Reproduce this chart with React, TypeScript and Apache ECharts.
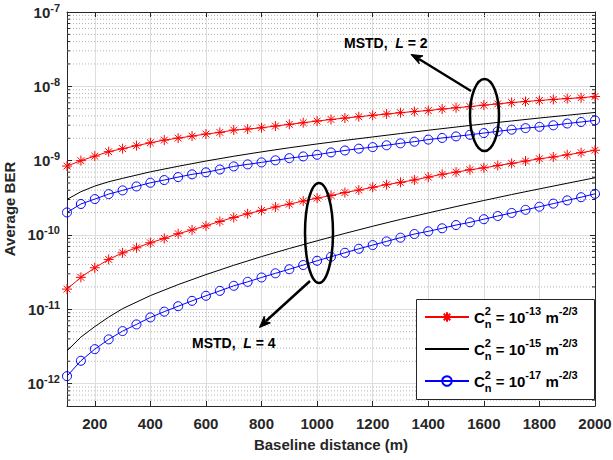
import React, { useEffect, useRef } from "react";
import * as echarts from "echarts";

const FONT = '"Liberation Sans", Arial, Helvetica, sans-serif';

// Baseline distance of marker points (m)
const distances = [
  100, 150, 200, 250, 300, 350, 400, 450, 500, 550, 600, 650, 700, 750, 800,
  850, 900, 950, 1000, 1050, 1100, 1150, 1200, 1250, 1300, 1350, 1400, 1450,
  1500, 1550, 1600, 1650, 1700, 1750, 1800, 1850, 1900, 1950, 2000,
];
// distances for the solid (no-marker) curves
const blackX = [
  100, 150, 200, 250, 300, 400, 500, 600, 700, 800, 900, 1000, 1100, 1200,
  1300, 1400, 1500, 1600, 1700, 1800, 1900, 2000,
];

// MSTD, L = 2
const redL2 = [
  8.45e-10, 1.0e-9, 1.15e-9, 1.32e-9, 1.45e-9, 1.59e-9, 1.74e-9, 1.89e-9,
  2.01e-9, 2.14e-9, 2.28e-9, 2.4e-9, 2.58e-9, 2.66e-9, 2.77e-9, 2.92e-9,
  3.08e-9, 3.24e-9, 3.41e-9, 3.58e-9, 3.74e-9, 3.9e-9, 4.07e-9, 4.24e-9,
  4.42e-9, 4.58e-9, 4.72e-9, 4.95e-9, 5.15e-9, 5.34e-9, 5.58e-9, 5.8e-9,
  6.05e-9, 6.25e-9, 6.45e-9, 6.66e-9, 6.84e-9, 7.02e-9, 7.3e-9,
];
const blackL2 = [
  3.01e-10, 3.82e-10, 4.55e-10, 5.2e-10, 5.78e-10, 7.07e-10, 8.4e-10,
  9.88e-10, 1.146e-9, 1.313e-9, 1.491e-9, 1.678e-9, 1.875e-9, 2.084e-9,
  2.316e-9, 2.565e-9, 2.833e-9, 3.119e-9, 3.42e-9, 3.745e-9, 4.08e-9, 4.45e-9,
];
const blueL2 = [
  2.01e-10, 2.61e-10, 3.04e-10, 3.55e-10, 3.98e-10, 4.5e-10, 5.04e-10,
  5.48e-10, 6.01e-10, 6.54e-10, 6.96e-10, 7.6e-10, 8.37e-10, 8.91e-10,
  9.48e-10, 1.01e-9, 1.08e-9, 1.14e-9, 1.2e-9, 1.29e-9, 1.37e-9, 1.45e-9,
  1.52e-9, 1.61e-9, 1.71e-9, 1.8e-9, 1.92e-9, 2.02e-9, 2.12e-9, 2.23e-9,
  2.35e-9, 2.48e-9, 2.61e-9, 2.74e-9, 2.85e-9, 2.99e-9, 3.16e-9, 3.31e-9,
  3.48e-9,
];

// MSTD, L = 4
const redL4 = [
  1.87e-11, 2.69e-11, 3.62e-11, 4.69e-11, 5.75e-11, 6.72e-11, 7.85e-11,
  9.0e-11, 1.04e-10, 1.17e-10, 1.33e-10, 1.52e-10, 1.72e-10, 1.93e-10,
  2.14e-10, 2.38e-10, 2.6e-10, 2.86e-10, 3.13e-10, 3.4e-10, 3.72e-10,
  4.02e-10, 4.38e-10, 4.75e-10, 5.1e-10, 5.5e-10, 6.0e-10, 6.56e-10, 7.0e-10,
  7.55e-10, 8.0e-10, 8.6e-10, 9.18e-10, 9.88e-10, 1.06e-9, 1.12e-9, 1.2e-9,
  1.28e-9, 1.38e-9,
];
const blackL4 = [
  2.76e-12, 4.23e-12, 5.85e-12, 7.85e-12, 1.02e-11, 1.529e-11, 2.15e-11,
  2.93e-11, 3.91e-11, 5.12e-11, 6.58e-11, 8.35e-11, 1.05e-10, 1.31e-10,
  1.62e-10, 1.98e-10, 2.41e-10, 2.91e-10, 3.5e-10, 4.17e-10, 4.96e-10, 5.89e-10,
];
const blueL4 = [
  1.26e-12, 2.03e-12, 2.91e-12, 3.94e-12, 5.09e-12, 6.26e-12, 7.78e-12,
  9.3e-12, 1.1e-11, 1.3e-11, 1.52e-11, 1.77e-11, 2.07e-11, 2.34e-11,
  2.68e-11, 3.05e-11, 3.46e-11, 3.94e-11, 4.5e-11, 5.09e-11, 5.76e-11,
  6.52e-11, 7.31e-11, 8.2e-11, 9.2e-11, 1.03e-10, 1.12e-10, 1.23e-10,
  1.36e-10, 1.48e-10, 1.63e-10, 1.8e-10, 1.98e-10, 2.18e-10, 2.4e-10,
  2.64e-10, 2.92e-10, 3.22e-10, 3.58e-10,
];

// legend entries (Cn^2 exponents)
const legendNames = ["n13", "n15", "n17"];
const legendExps = ["-13", "-15", "-17"];

// y axis limits and log minor tick multipliers
const yMin = 5e-13;
const yMax = 1e-7;
const minorMultipliers = [2, 3, 4, 5, 6, 7, 8, 9];
const minorDecades = [-13, -12, -11, -10, -9, -8];

const STAR = "path://M0 5L10 5M5 0L5 10M1.6 1.6L8.4 8.4M1.6 8.4L8.4 1.6";
const RED = "#ff0000";
const BLUE = "#0000ff";
const AX = "#262626";

export default function App() {
  const ref = useRef<HTMLDivElement>(null);

  useEffect(() => {
    if (!ref.current) return;
    const chart = echarts.init(ref.current, null, { renderer: "svg" });

    const yMinor: number[] = [];
    minorDecades.forEach((d) =>
      minorMultipliers.forEach((m) => {
        const v = m * Math.pow(10, d);
        if (v > yMin * 1.0001 && v < yMax) yMinor.push(v);
      })
    );

    const pair = (xs: number[], ys: number[]) => xs.map((x, i) => [x, ys[i]]);

    const starSeries = (data: number[][]) => ({
      name: "n13",
      type: "line",
      data,
      symbol: STAR,
      symbolSize: 10,
      showSymbol: true,
      showAllSymbol: true,
      lineStyle: { color: RED, width: 1 },
      itemStyle: { color: RED, borderColor: RED, borderWidth: 1 },
      emphasis: { disabled: true },
      z: 3,
    });
    const blackSeries = (data: number[][]) => ({
      name: "n15",
      type: "line",
      data,
      symbol: "circle",
      symbolSize: 0,
      showSymbol: false,
      smooth: false,
      lineStyle: { color: "#000000", width: 1 },
      itemStyle: { color: "rgba(0,0,0,0)", borderColor: "rgba(0,0,0,0)", borderWidth: 0 },
      emphasis: { disabled: true },
      z: 3,
    });
    const circleSeries = (data: number[][]) => ({
      name: "n17",
      type: "line",
      data,
      symbol: "circle",
      symbolSize: 9,
      showSymbol: true,
      showAllSymbol: true,
      lineStyle: { color: BLUE, width: 1 },
      itemStyle: { color: "rgba(255,255,255,0)", borderColor: BLUE, borderWidth: 1 },
      emphasis: { disabled: true },
      z: 3,
    });

    const yLabelFmt = (v: number) => {
      const e = Math.log10(v);
      const r = Math.round(e);
      if (Math.abs(e - r) > 1e-6) return "";
      return `{b|10}{s|${r}}`;
    };

    const legendRich = {
      c: { fontSize: 15, fontWeight: "bold", lineHeight: 24, fontFamily: FONT, color: "#000" },
      sup: { fontSize: 11, fontWeight: "bold", lineHeight: 12, verticalAlign: "top", width: 0, fontFamily: FONT, color: "#000" },
      sub: { fontSize: 11, fontWeight: "bold", lineHeight: 12, verticalAlign: "bottom", fontFamily: FONT, color: "#000" },
      t: { fontSize: 15, fontWeight: "bold", lineHeight: 24, fontFamily: FONT, color: "#000" },
      e: { fontSize: 11, fontWeight: "bold", lineHeight: 12, verticalAlign: "top", fontFamily: FONT, color: "#000" },
    };

    const annRich = {
      b: { fontSize: 14, fontWeight: "bold", fontFamily: FONT, fill: "#000", color: "#000" },
      i: { fontSize: 14, fontWeight: "bold", fontStyle: "italic", fontFamily: FONT, fill: "#000", color: "#000" },
    };

    const option: any = {
      animation: false,
      backgroundColor: "#ffffff",
      grid: {
        left: 67,
        right: 18,
        top: 12,
        bottom: 54,
        containLabel: false,
        outerBoundsMode: "none",
      },
      legend: {
        data: legendNames,
        orient: "vertical",
        left: 416,
        top: 299,
        padding: [6, 0, 6, 8],
        itemGap: 8,
        itemWidth: 44,
        itemHeight: 12,
        selectedMode: false,
        backgroundColor: "rgba(0,0,0,0)",
        borderWidth: 0,
        z: 6,
        formatter: (name: string) => {
          const exp = legendExps[legendNames.indexOf(name)];
          return `{c|C}{sup|2}{sub|n}{t| = 10}{e|${exp}}{t| m}{e|-2/3}`;
        },
        textStyle: { rich: legendRich, color: "#000", fontFamily: FONT },
      },
      xAxis: [
        {
          type: "value",
          position: "bottom",
          min: 100,
          max: 2000,
          splitNumber: 10,
          name: "Baseline distance (m)",
          nameLocation: "middle",
          nameGap: 31,
          nameTextStyle: { fontSize: 15, fontWeight: "bold", color: AX, fontFamily: FONT },
          axisLine: { show: true, lineStyle: { color: AX, width: 1 } },
          axisTick: { show: true, inside: true, length: 5, lineStyle: { color: AX } },
          axisLabel: {
            formatter: (v: number) => (v % 200 === 0 ? String(v) : ""),
            color: AX,
            fontSize: 15,
            fontWeight: "bold",
            fontFamily: FONT,
            margin: 10,
          },
          splitLine: { show: true, lineStyle: { color: "#dedede", width: 1 } },
        },
        {
          type: "value",
          position: "top",
          min: 100,
          max: 2000,
          splitNumber: 10,
          axisLine: { show: true, lineStyle: { color: AX, width: 1 } },
          axisTick: { show: true, inside: true, length: 5, lineStyle: { color: AX } },
          axisLabel: { show: false },
          splitLine: { show: false },
        },
      ],
      yAxis: [
        {
          type: "log",
          logBase: 10,
          position: "left",
          min: yMin,
          max: yMax,
          name: "Average BER",
          nameLocation: "middle",
          nameGap: 41,
          nameTextStyle: { fontSize: 15, fontWeight: "bold", color: AX, fontFamily: FONT },
          axisLine: { show: true, lineStyle: { color: AX, width: 1 } },
          axisTick: { show: true, inside: true, length: 5, lineStyle: { color: AX } },
          axisLabel: {
            formatter: yLabelFmt,
            margin: 7,
            rich: {
              b: { fontSize: 15, fontWeight: "bold", lineHeight: 20, color: AX, fontFamily: FONT },
              s: { fontSize: 11, fontWeight: "bold", lineHeight: 12, verticalAlign: "top", color: AX, fontFamily: FONT },
            },
          },
          splitLine: { show: true, lineStyle: { color: "#dedede", width: 1 } },
        },
        {
          type: "log",
          logBase: 10,
          position: "right",
          min: yMin,
          max: yMax,
          axisLine: { show: true, lineStyle: { color: AX, width: 1 } },
          axisTick: { show: true, inside: true, length: 5, lineStyle: { color: AX } },
          axisLabel: { show: false },
          splitLine: { show: false },
        },
      ],
      series: [
        {
          type: "custom",
          name: "minor",
          coordinateSystem: "cartesian2d",
          xAxisIndex: 0,
          yAxisIndex: 0,
          silent: true,
          z: 1,
          clip: false,
          data: yMinor.map((v) => [100, v]),
          renderItem: (_p: any, api: any) => {
            const v = api.value(1);
            const a = api.coord([100, v]);
            const b = api.coord([2000, v]);
            return {
              type: "group",
              children: [
                {
                  type: "line",
                  shape: { x1: a[0], y1: a[1], x2: b[0], y2: b[1] },
                  style: { stroke: "#b4b4b4", lineWidth: 1, lineDash: [1, 2] },
                },
                {
                  type: "line",
                  shape: { x1: a[0], y1: a[1], x2: a[0] + 3, y2: a[1] },
                  style: { stroke: AX, lineWidth: 1 },
                },
                {
                  type: "line",
                  shape: { x1: b[0] - 3, y1: b[1], x2: b[0], y2: b[1] },
                  style: { stroke: AX, lineWidth: 1 },
                },
              ],
            };
          },
        },
        starSeries(pair(distances, redL2)),
        blackSeries(pair(blackX, blackL2)),
        circleSeries(pair(distances, blueL2)),
        starSeries(pair(distances, redL4)),
        blackSeries(pair(blackX, blackL4)),
        circleSeries(pair(distances, blueL4)),
      ],
      graphic: [
        // legend box
        {
          type: "rect",
          shape: { x: 416.5, y: 299.5, width: 178, height: 100 },
          style: { fill: "#ffffff", stroke: AX, lineWidth: 1 },
          z: 5,
          silent: true,
        },
        // L = 2 annotation
        {
          type: "ellipse",
          shape: { cx: 484.5, cy: 115, rx: 14.5, ry: 36 },
          style: { fill: "none", stroke: "#000", lineWidth: 2.5 },
          z: 10,
        },
        {
          type: "line",
          shape: { x1: 471, y1: 91, x2: 419, y2: 59 },
          style: { stroke: "#000", lineWidth: 2.5 },
          z: 10,
        },
        {
          type: "polygon",
          shape: {
            points: [
              [411, 54.5],
              [423, 55.8],
              [418.3, 58.5],
              [419.2, 63.8],
            ],
          },
          style: { fill: "#000", stroke: "#000", lineWidth: 1 },
          z: 10,
        },
        {
          type: "text",
          x: 344,
          y: 43,
          style: {
            text: "{b|MSTD,  }{i|L}{b| = 2}",
            rich: annRich,
            verticalAlign: "middle",
            align: "left",
          },
          z: 10,
        },
        // L = 4 annotation
        {
          type: "ellipse",
          shape: { cx: 319, cy: 233, rx: 14, ry: 50 },
          style: { fill: "none", stroke: "#000", lineWidth: 2.5 },
          z: 10,
        },
        {
          type: "line",
          shape: { x1: 310, y1: 281, x2: 266, y2: 321 },
          style: { stroke: "#000", lineWidth: 2.5 },
          z: 10,
        },
        {
          type: "polygon",
          shape: {
            points: [
              [259.5, 327.5],
              [264.2, 316.3],
              [265.3, 321.6],
              [270.4, 322.9],
            ],
          },
          style: { fill: "#000", stroke: "#000", lineWidth: 1 },
          z: 10,
        },
        {
          type: "text",
          x: 192,
          y: 343,
          style: {
            text: "{b|MSTD,  }{i|L}{b| = 4}",
            rich: annRich,
            verticalAlign: "middle",
            align: "left",
          },
          z: 10,
        },
      ],
    };

    chart.setOption(option);
    return () => chart.dispose();
  }, []);

  return (
    <div
      ref={ref}
      style={{ position: "fixed", left: 0, top: 0, width: 613, height: 460, background: "#fff" }}
    />
  );
}
